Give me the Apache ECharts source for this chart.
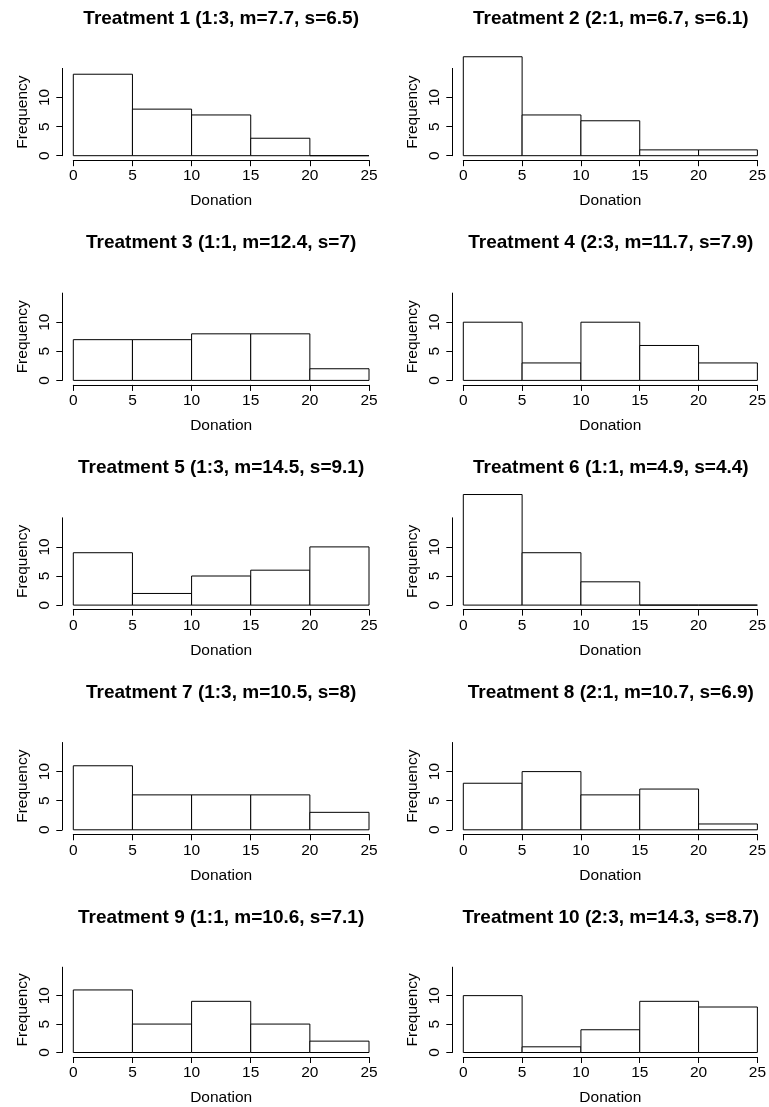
<!DOCTYPE html>
<html>
<head>
<meta charset="utf-8">
<script src="https://cdn.jsdelivr.net/npm/echarts@6/dist/echarts.min.js"></script>
<style>
  html, body { margin: 0; padding: 0; background: #fff; }
  #main { width: 769px; height: 1107px; }
</style>
</head>
<body>
<div id="main"></div>
<script>
// panel titles
var titles = [
  'Treatment 1 (1:3, m=7.7, s=6.5)',
  'Treatment 2 (2:1, m=6.7, s=6.1)',
  'Treatment 3 (1:1, m=12.4, s=7)',
  'Treatment 4 (2:3, m=11.7, s=7.9)',
  'Treatment 5 (1:3, m=14.5, s=9.1)',
  'Treatment 6 (1:1, m=4.9, s=4.4)',
  'Treatment 7 (1:3, m=10.5, s=8)',
  'Treatment 8 (2:1, m=10.7, s=6.9)',
  'Treatment 9 (1:1, m=10.6, s=7.1)',
  'Treatment 10 (2:3, m=14.3, s=8.7)'
]
// histogram breaks
var breaks = [0, 5, 10, 15, 20, 25]
// counts per bin
var counts1 = [14, 8, 7, 3, 0]
var counts2 = [17, 7, 6, 1, 1]
var counts3 = [7, 7, 8, 8, 2]
var counts4 = [10, 3, 10, 6, 3]
var counts5 = [9, 2, 5, 6, 10]
var counts6 = [19, 9, 4, 0, 0]
var counts7 = [11, 6, 6, 6, 3]
var counts8 = [8, 10, 6, 7, 1]
var counts9 = [11, 5, 9, 5, 2]
var counts10 = [10, 1, 4, 9, 8]
var allCounts = [counts1, counts2, counts3, counts4, counts5, counts6, counts7, counts8, counts9, counts10]

var FONT = '"Liberation Sans", Arial, Helvetica, sans-serif'
var colX = [73.3, 463.3]
var colW = [295.7, 295]
var rowStep = 224.7
var baseY0 = 155.7
var plotH = 87.3 // 0..15

var el = document.getElementById('main')
var myChart = echarts.init(el, null, { renderer: 'canvas' })

var grid = [], xAxis = [], yAxis = [], series = [], title = []

allCounts.forEach(function (counts, i) {
  var col = i % 2, row = Math.floor(i / 2)
  var base = baseY0 + row * rowStep
  grid.push({ left: colX[col], top: base - plotH, width: colW[col], height: plotH })
  title.push({
    text: titles[i],
    left: colX[col] + colW[col] / 2,
    top: 9 + row * rowStep,
    textAlign: 'center',
    padding: 0,
    textStyle: { fontFamily: FONT, fontSize: 19, fontWeight: 'bold', color: '#000' }
  })
  xAxis.push({
    gridIndex: i, type: 'value', min: 0, max: 25, interval: 5,
    offset: 4.5,
    name: 'Donation', nameLocation: 'middle', nameGap: 33,
    nameTextStyle: { fontFamily: FONT, fontSize: 15.5, color: '#000' },
    axisLine: { show: true, onZero: false, lineStyle: { color: '#000', width: 1 } },
    axisTick: { show: true, length: 6, lineStyle: { color: '#000', width: 1 } },
    axisLabel: { fontFamily: FONT, fontSize: 15.5, color: '#000', margin: 8 },
    splitLine: { show: false }
  })
  yAxis.push({
    gridIndex: i, type: 'value', min: 0, max: 15, interval: 5,
    offset: 11,
    name: 'Frequency', nameLocation: 'middle', nameRotate: 90, nameGap: 32,
    nameTextStyle: { fontFamily: FONT, fontSize: 15.5, color: '#000' },
    axisLine: { show: true, onZero: false, lineStyle: { color: '#000', width: 1 } },
    axisTick: { show: true, length: 6, lineStyle: { color: '#000', width: 1 } },
    axisLabel: { fontFamily: FONT, fontSize: 15.5, color: '#000', margin: 10, rotate: 90, showMaxLabel: false },
    splitLine: { show: false }
  })
  var data = counts.map(function (c, k) { return [breaks[k], breaks[k + 1], c] })
  series.push({
    type: 'custom',
    xAxisIndex: i, yAxisIndex: i,
    clip: false,
    silent: true,
    data: data,
    renderItem: function (params, api) {
      var p0 = api.coord([api.value(0), api.value(2)])
      var p1 = api.coord([api.value(1), 0])
      return {
        type: 'rect',
        shape: { x: p0[0], y: p0[1], width: p1[0] - p0[0], height: p1[1] - p0[1] },
        style: { fill: '#fff', stroke: '#000', lineWidth: 1 }
      }
    }
  })
})

var option = {
  backgroundColor: '#fff',
  animation: false,
  title: title,
  grid: grid,
  xAxis: xAxis,
  yAxis: yAxis,
  series: series
}
myChart.setOption(option)
</script>
</body>
</html>
